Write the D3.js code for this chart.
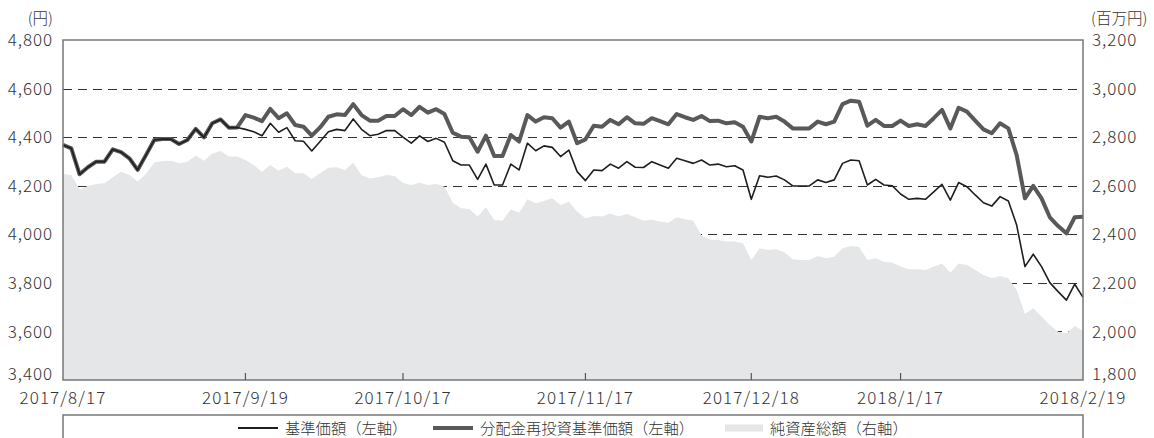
<!DOCTYPE html>
<html><head><meta charset="utf-8">
<script src="https://cdn.jsdelivr.net/npm/d3@7/dist/d3.min.js"></script>
<style>
html,body{margin:0;padding:0;background:#fff;}
svg text{font-family:"Noto Sans CJK JP","Noto Sans",sans-serif;fill:#333;font-weight:300;}
</style></head>
<body><svg id="c" width="1154" height="438"></svg>
<script>
const dates = [
"2017/8/17","2017/8/18","2017/8/21","2017/8/22","2017/8/23","2017/8/24","2017/8/25","2017/8/28","2017/8/29","2017/8/30","2017/8/31",
"2017/9/1","2017/9/4","2017/9/5","2017/9/6","2017/9/7","2017/9/8","2017/9/11","2017/9/12","2017/9/13","2017/9/14","2017/9/15","2017/9/19","2017/9/20","2017/9/21","2017/9/22","2017/9/25","2017/9/26","2017/9/27","2017/9/28","2017/9/29",
"2017/10/2","2017/10/3","2017/10/4","2017/10/5","2017/10/6","2017/10/10","2017/10/11","2017/10/12","2017/10/13","2017/10/16","2017/10/17","2017/10/18","2017/10/19","2017/10/20","2017/10/23","2017/10/24","2017/10/25","2017/10/26","2017/10/27","2017/10/30","2017/10/31",
"2017/11/1","2017/11/2","2017/11/6","2017/11/7","2017/11/8","2017/11/9","2017/11/10","2017/11/13","2017/11/14","2017/11/15","2017/11/16","2017/11/17","2017/11/20","2017/11/21","2017/11/22","2017/11/24","2017/11/27","2017/11/28","2017/11/29","2017/11/30",
"2017/12/1","2017/12/4","2017/12/5","2017/12/6","2017/12/7","2017/12/8","2017/12/11","2017/12/12","2017/12/13","2017/12/14","2017/12/15","2017/12/18","2017/12/19","2017/12/20","2017/12/21","2017/12/22","2017/12/25","2017/12/26","2017/12/27","2017/12/28","2017/12/29",
"2018/1/4","2018/1/5","2018/1/9","2018/1/10","2018/1/11","2018/1/12","2018/1/15","2018/1/16","2018/1/17","2018/1/18","2018/1/19","2018/1/22","2018/1/23","2018/1/24","2018/1/25","2018/1/26","2018/1/29","2018/1/30","2018/1/31",
"2018/2/1","2018/2/2","2018/2/5","2018/2/6","2018/2/7","2018/2/8","2018/2/9","2018/2/13","2018/2/14","2018/2/15","2018/2/16","2018/2/19"
];
const nav = [
4368,4354,4247,4276,4299,4299,4350,4338,4313,4265,4326,4388,4392,4392,4372,4388,4434,4399,4457,4473,4439,
4440,4432,4422,4406,4457,4420,4439,4385,4383,4343,4382,4422,4432,4427,4475,4432,4406,4412,4427,4427,4400,
4375,4405,4382,4395,4379,4303,4285,4285,4226,4289,4203,4203,4289,4265,4375,4344,4364,4358,4320,4347,
4258,4221,4265,4262,4289,4272,4299,4276,4275,4299,4285,4272,4313,4303,4292,4306,4285,4289,4278,4282,4265,
4144,4241,4235,4240,4224,4199,4199,4199,4224,4213,4224,4292,4306,4303,4203,4226,4203,4200,4166,4144,
4148,4144,4175,4206,4141,4213,4196,4162,4130,4116,4155,4137,4038,3867,3918,3867,3801,3764,3729,3795,3740
];
const reinvest = [
4368,4354,4247,4276,4299,4299,4350,4338,4313,4265,4326,4388,4392,4392,4372,4388,4434,4399,4457,4473,4439,
4440,4491,4480,4466,4516,4478,4498,4450,4443,4406,4440,4484,4494,4491,4536,4491,4468,4468,4487,4487,4515,
4491,4525,4501,4515,4495,4418,4402,4400,4340,4406,4322,4322,4409,4382,4491,4464,4482,4478,4439,4464,
4375,4391,4447,4443,4471,4453,4482,4457,4455,4478,4466,4453,4495,4482,4471,4487,4466,4468,4457,4461,4443,
4382,4484,4478,4484,4464,4436,4436,4436,4464,4453,4464,4536,4550,4546,4447,4471,4446,4446,4468,4446,
4453,4446,4478,4512,4436,4521,4505,4468,4432,4416,4457,4436,4326,4148,4199,4148,4070,4034,4004,4070,4072
];
const netAssets = [
2648,2644,2585,2599,2607,2610,2635,2658,2644,2617,2648,2696,2702,2703,2692,2699,2724,2703,2733,2743,2720,
2720,2706,2685,2658,2685,2662,2678,2651,2651,2628,2651,2674,2676,2665,2695,2644,2630,2635,2644,2640,2611,
2603,2612,2603,2607,2596,2530,2507,2504,2473,2511,2459,2456,2503,2489,2544,2528,2537,2548,2521,2534,
2493,2466,2475,2473,2486,2473,2484,2470,2456,2460,2453,2448,2470,2462,2456,2394,2379,2376,2370,2370,2363,
2294,2342,2335,2338,2326,2297,2294,2294,2311,2301,2308,2342,2352,2348,2294,2301,2287,2283,2267,2256,
2256,2253,2267,2280,2242,2280,2274,2253,2232,2219,2228,2219,2171,2072,2095,2061,2026,1999,1992,2022,2003
];
const xTickLabels = ["2017/8/17","2017/9/19","2017/10/17","2017/11/17","2017/12/18","2018/1/17","2018/2/19"];
const leftTicks = [3400,3600,3800,4000,4200,4400,4600,4800];
const rightTicks = [1800,2000,2200,2400,2600,2800,3000,3200];
const legendLabels = ["基準価額（左軸）","分配金再投資基準価額（左軸）","純資産総額（右軸）"];

const L=63, R=1083, T=40, B=380;
const svg = d3.select("#c");
const x = d3.scalePoint().domain(dates).range([L,R]);
const yL = d3.scaleLinear().domain([3400,4800]).range([B,T]);
const yR = d3.scaleLinear().domain([1800,3200]).range([B,T]);
const fmt = d3.format(",");

// grid
svg.append("g").selectAll("line").data(leftTicks.filter(v=>v>3400&&v<4800)).join("line")
  .attr("x1",L).attr("x2",R).attr("y1",d=>Math.round(yL(d))+0.5).attr("y2",d=>Math.round(yL(d))+0.5)
  .attr("stroke","#333").attr("stroke-width",1).attr("stroke-dasharray","9,6");

// area
const area = d3.area().x((d,i)=>x(dates[i])).y0(B).y1(d=>yR(d));
svg.append("path").datum(netAssets).attr("d",area).attr("fill","#e5e6e8");

// lines
const lineL = d3.line().x((d,i)=>x(dates[i])).y(d=>yL(d));
svg.append("path").datum(reinvest).attr("d",lineL).attr("fill","none")
  .attr("stroke","#595959").attr("stroke-width",4).attr("stroke-linejoin","round");
svg.append("path").datum(nav).attr("d",lineL).attr("fill","none")
  .attr("stroke","#1e1e1e").attr("stroke-width",1.6).attr("stroke-linejoin","round");

// frame
svg.append("rect").attr("x",L).attr("y",T).attr("width",R-L).attr("height",B-T)
  .attr("fill","none").attr("stroke","#777").attr("stroke-width",1.5);

// x ticks
const xt = svg.append("g");
xt.selectAll("line").data(xTickLabels.slice(1,-1)).join("line")
  .attr("x1",d=>x(d)).attr("x2",d=>x(d)).attr("y1",B).attr("y2",B-7)
  .attr("stroke","#555").attr("stroke-width",1.2);
xt.selectAll("text").data(xTickLabels).join("text")
  .attr("x",d=>x(d)).attr("y",404).attr("text-anchor","middle")
  .attr("font-size",17).attr("letter-spacing",1.1).text(d=>d);

// y labels
svg.append("g").selectAll("text").data(leftTicks).join("text")
  .attr("x",53).attr("y",d=>yL(d)+(d===3400?-6:0)).attr("dy","0.36em")
  .attr("text-anchor","end").attr("font-size",17).attr("letter-spacing",0.9).text(d=>fmt(d));
svg.append("g").selectAll("text").data(rightTicks).join("text")
  .attr("x",1092).attr("y",d=>yR(d)+(d===1800?-6:0)).attr("dy","0.36em")
  .attr("text-anchor","start").attr("font-size",17).attr("letter-spacing",0.9).text(d=>fmt(d));
svg.append("text").attr("x",53).attr("y",18).attr("dy","0.36em").attr("text-anchor","end")
  .attr("font-size",15.5).text("(円)");
svg.append("text").attr("x",1091).attr("y",18).attr("dy","0.36em").attr("text-anchor","start")
  .attr("font-size",15.5).text("(百万円)");

// legend
svg.append("rect").attr("x",L).attr("y",415).attr("width",R-L).attr("height",40)
  .attr("fill","none").attr("stroke","#777").attr("stroke-width",1.5);
const lg = svg.append("g");
const ly = 428;
lg.append("line").attr("x1",238).attr("x2",278).attr("y1",ly).attr("y2",ly).attr("stroke","#1e1e1e").attr("stroke-width",1.8);
lg.append("text").attr("x",285).attr("y",ly).attr("dy","0.36em").attr("font-size",15.3).text(legendLabels[0]);
lg.append("line").attr("x1",433).attr("x2",473).attr("y1",ly).attr("y2",ly).attr("stroke","#595959").attr("stroke-width",4);
lg.append("text").attr("x",480).attr("y",ly).attr("dy","0.36em").attr("font-size",15.3).text(legendLabels[1]);
lg.append("rect").attr("x",725).attr("y",ly-3.5).attr("width",38).attr("height",7).attr("fill","#e5e6e8");
lg.append("text").attr("x",770).attr("y",ly).attr("dy","0.36em").attr("font-size",15.3).text(legendLabels[2]);
</script></body></html>
